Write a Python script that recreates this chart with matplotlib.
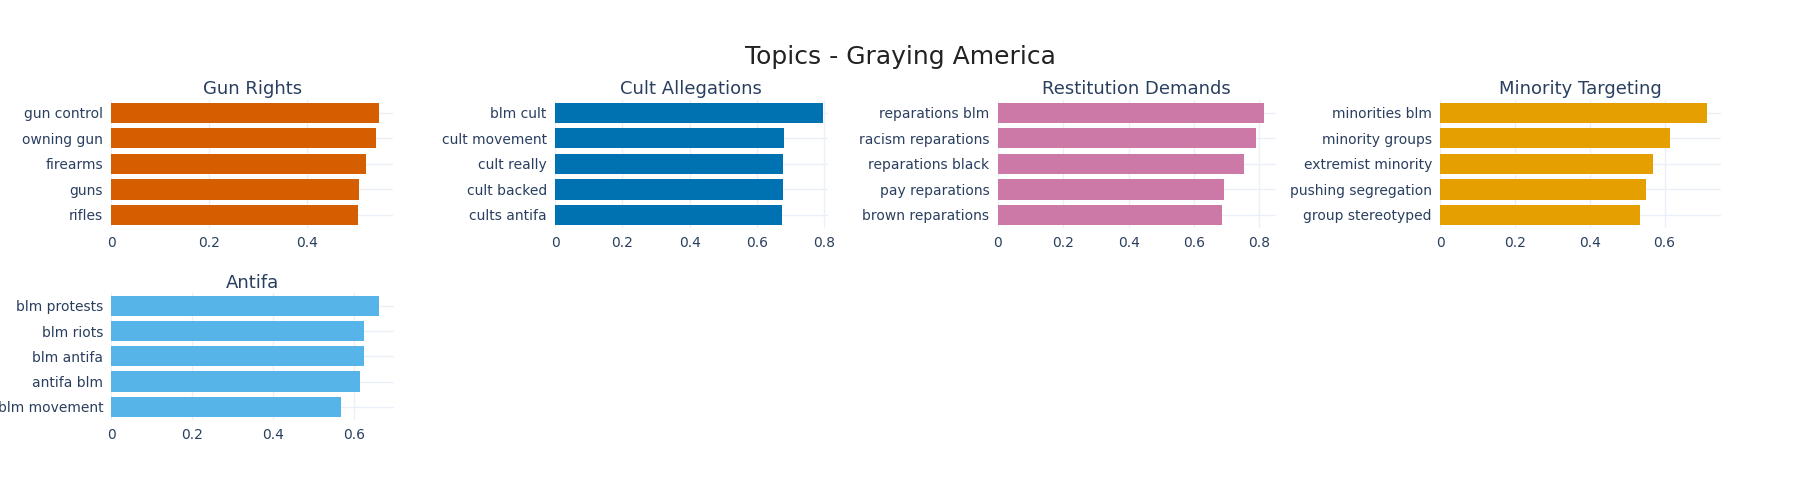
import matplotlib.pyplot as plt
import numpy as np

# data
titles = ["Gun Rights", "Cult Allegations", "Restitution Demands", "Minority Targeting", "Antifa"]
words = [
    ["gun control", "owning gun", "firearms", "guns", "rifles"],
    ["blm cult", "cult movement", "cult really", "cult backed", "cults antifa"],
    ["reparations blm", "racism reparations", "reparations black", "pay reparations", "brown reparations"],
    ["minorities blm", "minority groups", "extremist minority", "pushing segregation", "group stereotyped"],
    ["blm protests", "blm riots", "blm antifa", "antifa blm", "blm movement"],
]
scores = [
    [0.548, 0.541, 0.520, 0.506, 0.504],
    [0.795, 0.681, 0.678, 0.677, 0.675],
    [0.814, 0.790, 0.754, 0.691, 0.684],
    [0.714, 0.615, 0.569, 0.551, 0.535],
    [0.662, 0.625, 0.625, 0.614, 0.568],
]
colors = ["#D55E00", "#0072B2", "#CC79A7", "#E69F00", "#56B4E9"]
xmax = [0.576, 0.81, 0.85, 0.75, 0.70]
xticks = [[0, 0.2, 0.4], [0, 0.2, 0.4, 0.6, 0.8], [0, 0.2, 0.4, 0.6, 0.8], [0, 0.2, 0.4, 0.6], [0, 0.2, 0.4, 0.6]]

# layout in reference pixel coords
W, H = 1566, 435
boxes = [(97, 342, 87, 198), (483, 720, 87, 198), (868, 1110, 87, 198),
         (1253, 1497, 87, 198), (97, 343, 255, 365)]

fig = plt.figure(figsize=(18, 5), dpi=100)
fig.text(0.5, 1 - 50 / H, "Topics - Graying America", ha="center", va="center",
         fontsize=18, color="#222222")

for i in range(5):
    x0, x1, y0, y1 = boxes[i]
    ax = fig.add_axes([x0 / W, 1 - y1 / H, (x1 - x0) / W, (y1 - y0) / H])
    y = np.arange(5)[::-1]
    ax.barh(y, scores[i], height=0.8, color=colors[i], zorder=3)
    ax.set_yticks(y)
    ax.set_yticklabels(words[i])
    ax.set_ylim(-0.5, 4.5)
    ax.set_xlim(0, xmax[i])
    ax.set_xticks(xticks[i])
    ax.set_xticklabels([f"{t:g}" for t in xticks[i]])
    ax.grid(True, color="#EBF0F8", linewidth=1, zorder=0)
    for s in ax.spines.values():
        s.set_visible(False)
    ax.tick_params(length=0, labelsize=10, colors="#2A3F5F", pad=6)
    ax.set_title(titles[i], fontsize=13, color="#2A3F5F", pad=4)

plt.savefig("out.png")
